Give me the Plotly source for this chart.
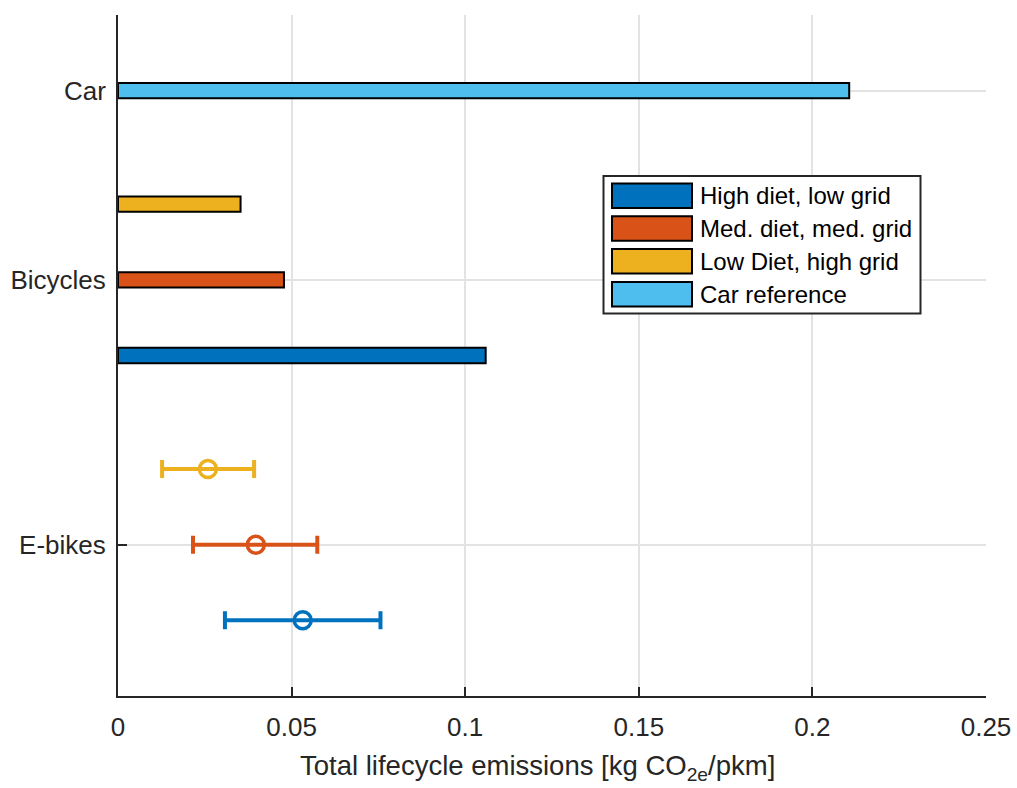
import plotly.graph_objects as go

# ---- data -------------------------------------------------------------
categories = ["E-bikes", "Bicycles", "Car"]
scenarios = ["High diet, low grid", "Med. diet, med. grid", "Low Diet, high grid"]
car_label = "Car reference"

# Bicycles: total lifecycle emissions per scenario [kg CO2e/pkm]
bicycle_values = [0.1059, 0.0478, 0.0353]

# E-bikes: central estimate with lower / upper bounds per scenario
ebike_mean = [0.0532, 0.0397, 0.0259]
ebike_low = [0.0308, 0.0216, 0.0127]
ebike_high = [0.0756, 0.0574, 0.0392]

# Car reference
car_value = [0.2106]

x_ticks = [0, 0.05, 0.1, 0.15, 0.2, 0.25]
x_tick_labels = ["0", "0.05", "0.1", "0.15", "0.2", "0.25"]

# ---- style ------------------------------------------------------------
scenario_colors = ["#0072BD", "#D95319", "#EDB120"]
car_color = "#4DBEEE"
axis_color = "#262626"
grid_color = "#e3e3e3"
font_family = "Arial, 'Liberation Sans', sans-serif"

cat_pos = [1.0, 2.0, 2.0 + 5.0 / 7.0]        # y positions of the category rows
group_offsets = [-2.0 / 7.0, 0.0, 2.0 / 7.0]  # scenario offsets within a row
bar_width = 0.058

W, H = 1017, 788
L, R, T, B = 118, 31, 15, 92

fig = go.Figure()

# Bicycles, one horizontal bar per scenario
for i, name in enumerate(scenarios):
    fig.add_trace(go.Bar(
        orientation="h",
        x=[bicycle_values[i]],
        y=[cat_pos[1] + group_offsets[i]],
        width=bar_width,
        marker=dict(color=scenario_colors[i], line=dict(color="black", width=2)),
        name=name,
        showlegend=False,
    ))

# Car reference bar
fig.add_trace(go.Bar(
    orientation="h",
    x=car_value,
    y=[cat_pos[2]],
    width=bar_width,
    marker=dict(color=car_color, line=dict(color="black", width=2)),
    name=car_label,
    showlegend=False,
))

# E-bikes: open circle with range whiskers
for i, name in enumerate(scenarios):
    m, lo, hi = ebike_mean[i], ebike_low[i], ebike_high[i]
    fig.add_trace(go.Scatter(
        x=[m],
        y=[cat_pos[0] + group_offsets[i]],
        mode="markers",
        marker=dict(symbol="circle-open", size=17, color=scenario_colors[i],
                    line=dict(width=3.5, color=scenario_colors[i])),
        error_x=dict(type="data", symmetric=False, array=[hi - m], arrayminus=[m - lo],
                     color=scenario_colors[i], thickness=4, width=9),
        name=name,
        showlegend=False,
    ))

# ---- hand-drawn legend box (wide swatches) -----------------------------
pw, ph = W - L - R, H - T - B


def px_x(x):
    return (x - L) / pw


def px_y(y):
    return (H - B - y) / ph


shapes = [dict(type="rect", xref="paper", yref="paper",
               x0=px_x(603.5), x1=px_x(920.5), y0=px_y(313.5), y1=px_y(176),
               fillcolor="white", line=dict(color=axis_color, width=2), layer="above")]
legend_labels = scenarios + [car_label]
legend_colors = scenario_colors + [car_color]
annotations = []
for k, (lab, col) in enumerate(zip(legend_labels, legend_colors)):
    top = 183.5 + k * 32.8
    shapes.append(dict(type="rect", xref="paper", yref="paper",
                       x0=px_x(612), x1=px_x(692), y0=px_y(top + 24.5), y1=px_y(top),
                       fillcolor=col, line=dict(color="black", width=2), layer="above"))
    annotations.append(dict(xref="paper", yref="paper", x=px_x(698), y=px_y(top + 12.5),
                            text=lab, showarrow=False, xanchor="left", yanchor="middle",
                            font=dict(family=font_family, size=24, color="black")))

# x-axis title
annotations.append(dict(
    xref="paper", yref="paper", x=px_x(537), y=px_y(748),
    text="Total lifecycle emissions [kg CO<sub>2e</sub>/pkm]",
    showarrow=False, xanchor="center", yanchor="top",
    font=dict(family=font_family, size=27.5, color=axis_color),
))

fig.update_layout(
    width=W, height=H,
    margin=dict(l=L, r=R, t=T, b=B, pad=0),
    plot_bgcolor="white", paper_bgcolor="white",
    barmode="overlay",
    font=dict(family=font_family, size=26, color=axis_color),
    shapes=shapes,
    annotations=annotations,
    showlegend=False,
)

fig.update_xaxes(
    range=[0, 0.25], tickvals=x_ticks, ticktext=x_tick_labels,
    showline=True, linecolor=axis_color, linewidth=2,
    ticks="inside", ticklen=9, tickwidth=2, tickcolor=axis_color,
    showgrid=True, gridcolor=grid_color, gridwidth=2, zeroline=False,
    ticklabelstandoff=7, automargin=False,
    tickfont=dict(size=26, color=axis_color),
    layer="below traces",
)
fig.update_yaxes(
    range=[3.0 / 7.0, 3.0], tickvals=cat_pos, ticktext=categories,
    showline=True, linecolor=axis_color, linewidth=2,
    ticks="inside", ticklen=9, tickwidth=2, tickcolor=axis_color,
    showgrid=True, gridcolor=grid_color, gridwidth=2, zeroline=False,
    ticklabelstandoff=5, automargin=False,
    tickfont=dict(size=26, color=axis_color),
    layer="below traces",
)

fig.write_html("out.html")
